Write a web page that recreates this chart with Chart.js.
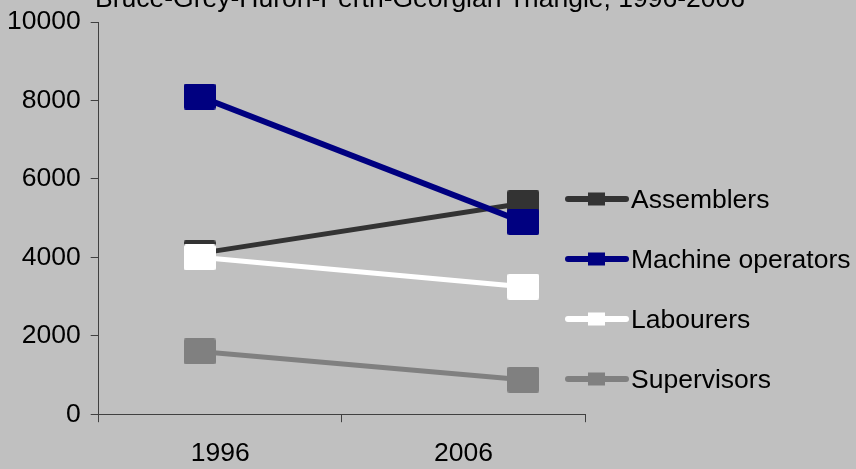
<!DOCTYPE html>
<html>
<head>
<meta charset="utf-8">
<script src="https://cdn.jsdelivr.net/npm/chart.js@4"></script>
<style>
  html, body { margin: 0; padding: 0; background: #c0c0c0; }
  #wrap { width: 856px; height: 469px; }
</style>
</head>
<body>
<div id="wrap"><canvas id="chart" width="856" height="469"></canvas></div>
<script>
const chartTitle = 'Bruce-Grey-Huron-Perth-Georgian Triangle, 1996-2006';
const years = [1996, 2006];
const yearLabels = ['1996', '2006'];
const seriesNames = ['Assemblers', 'Machine operators', 'Labourers', 'Supervisors'];
const assemblers = [4100, 5380];
const machineOperators = [8100, 4900];
const labourers = [4000, 3250];
const supervisors = [1600, 880];
const seriesColors = ['#333333', '#000080', '#ffffff', '#808080'];
const lineWidths = [5, 6, 5, 5];

const FONT = "'Liberation Sans', Arial, sans-serif";
const FS = 26.5;
Chart.defaults.font.family = FONT;
Chart.defaults.font.size = FS;
Chart.defaults.color = '#000';

/* square markers, a bit wider than tall like the original */
function marker(color, w, h){
  const c = document.createElement('canvas');
  c.width = w; c.height = h;
  const g = c.getContext('2d');
  g.fillStyle = color;
  g.beginPath();
  g.roundRect(0, 0, w, h, 2);
  g.fill();
  return c;
}

const allValues = [assemblers, machineOperators, labourers, supervisors];

const datasets = seriesNames.map((name, i) => ({
  label: name,
  data: years.map((yr, j) => ({x: yr, y: allValues[i][j]})),
  xAxisID: 'x2',
  borderColor: seriesColors[i],
  backgroundColor: seriesColors[i],
  borderWidth: lineWidths[i],
  pointStyle: marker(seriesColors[i], 32, 26),
  pointRadius: 16,
  pointHoverRadius: 16,
  tension: 0,
  order: seriesNames.length - i
}));

/* title is partly cut off at the top in the original */
const titlePlugin = {
  id: 'cutTitle',
  afterDraw(chart){
    const ctx = chart.ctx;
    ctx.save();
    ctx.font = FS + 'px ' + FONT;
    ctx.fillStyle = '#000';
    ctx.textAlign = 'left';
    ctx.textBaseline = 'alphabetic';
    ctx.fillText(chartTitle, 95, 7);
    ctx.restore();
  }
};

/* legend sits over the right end of the plot */
const legendPlugin = {
  id: 'lineLegend',
  afterDraw(chart){
    const ctx = chart.ctx;
    ctx.save();
    chart.data.datasets.forEach((ds, i) => {
      const y = 199 + i * 60;
      ctx.strokeStyle = ds.borderColor;
      ctx.lineWidth = 6;
      ctx.lineCap = 'round';
      ctx.beginPath();
      ctx.moveTo(568, y);
      ctx.lineTo(626, y);
      ctx.stroke();
      ctx.fillStyle = ds.borderColor;
      ctx.fillRect(588, y - 6.5, 17, 13);
      ctx.fillStyle = '#000';
      ctx.font = FS + 'px ' + FONT;
      ctx.textBaseline = 'alphabetic';
      ctx.fillText(ds.label, 631, y + 9);
    });
    ctx.restore();
  }
};

new Chart(document.getElementById('chart'), {
  type: 'line',
  data: { labels: yearLabels, datasets },
  options: {
    responsive: false,
    animation: false,
    layout: { padding: { top: 16, left: -3, right: 271, bottom: -17 } },
    plugins: { legend: { display: false }, tooltip: { enabled: false }, title: { display: false } },
    scales: {
      x: {
        type: 'category',
        offset: true,
        grid: { offset: true, drawOnChartArea: false, drawTicks: true, tickLength: 8, color: '#404040' },
        border: { color: '#404040', width: 1 },
        ticks: { padding: 16, font: { size: FS }, color: '#000', maxRotation: 0 }
      },
      x2: {
        type: 'linear',
        display: false,
        min: 1992.88,
        max: 2007.91
      },
      y: {
        min: 0,
        max: 10000,
        afterFit(scale){ scale.paddingTop = 0; },
        ticks: {
          stepSize: 2000,
          padding: 10,
          font: { size: FS, lineHeight: 0.08 },
          color: '#000',
          callback: v => String(v)
        },
        grid: { drawOnChartArea: false, drawTicks: true, tickLength: 8, color: '#404040' },
        border: { color: '#404040', width: 1 }
      }
    }
  },
  plugins: [titlePlugin, legendPlugin]
});
</script>
</body>
</html>
